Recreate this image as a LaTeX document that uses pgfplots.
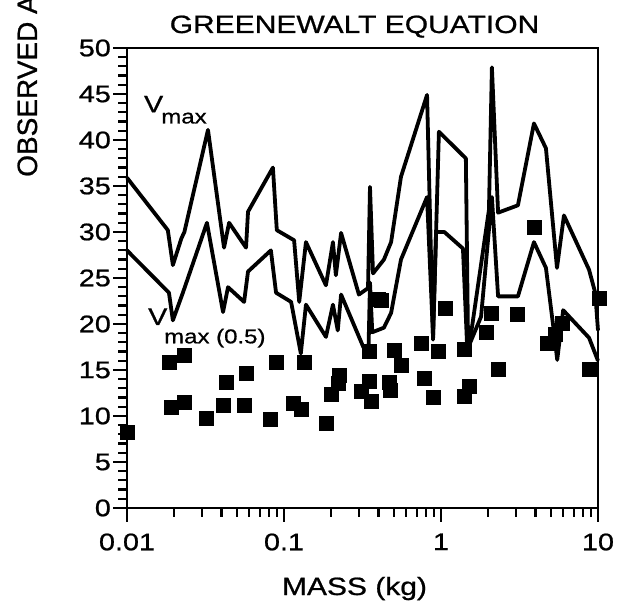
\documentclass[border=0pt]{standalone}
\usepackage{fontspec}
\setmainfont{Liberation Sans}[FakeStretch=1.2, FakeBold=0.8]
\newfontfamily\labelfont{Liberation Sans}[FakeBold=0.8]
\usepackage{pgfplots}
\pgfplotsset{compat=1.18}
\begin{document}
\begin{tikzpicture}
\begin{axis}[name=ax, scale only axis, width=471pt, height=460pt,
  xmode=log, xmin=0.01, xmax=10, ymin=0, ymax=50,
  xtick={0.01,0.1,1,10}, xticklabels={0.01,0.1,1,10},
  minor xtick={0.02,0.03,0.04,0.05,0.06,0.07,0.08,0.09,0.2,0.3,0.4,0.5,0.6,0.7,0.8,0.9,2,3,4,5,6,7,8,9},
  ytick={0,5,...,50}, minor y tick num=4,
  tick align=outside, xtick pos=bottom, ytick pos=left,
  major tick length=14pt, minor tick length=9pt,
  axis line style={line width=2.6pt},
  every tick/.style={black, line width=2.2pt},
  tick label style={font=\fontsize{24}{24}\selectfont},
  /pgf/number format/assume math mode=true,
  yticklabel style={inner sep=2pt},
  xticklabel shift=8pt,
  clip=false]
% V max
\addplot[black, line width=3.8pt, line join=round] coordinates {
(0.01,35.9) (0.0182,30.2) (0.0196,26.4) (0.0222,29.3) (0.0232,30.0)
(0.0328,41.1) (0.0415,28.3) (0.0447,31.0) (0.0573,28.3) (0.059,32.2)
(0.085,37.0) (0.090,30.2) (0.116,29.1) (0.125,22.4) (0.138,28.9)
(0.185,24.2) (0.205,28.9) (0.214,25.3) (0.231,29.9) (0.30,23.2)
(0.343,23.9) (0.353,34.9) (0.369,25.5) (0.433,27.0) (0.481,28.9)
(0.556,36.0) (0.815,44.9) (0.89,18.3) (0.97,40.9) (1.44,38.0)
(1.49,16.8) (2.02,32.4) (2.11,47.9) (2.31,32.1) (3.09,32.9)
(3.91,41.8) (4.66,39.1) (5.48,26.1) (6.07,31.8) (8.77,25.9)
(9.6,23.4) (10,19.3)};
% V max (0.5)
\addplot[black, line width=3.8pt, line join=round] coordinates {
(0.01,28.0) (0.0185,23.4) (0.0196,20.4) (0.0227,23.4) (0.0323,31.0)
(0.0409,21.3) (0.044,24.0) (0.0557,22.4) (0.059,25.7) (0.0825,28.0)
(0.089,23.4) (0.111,22.4) (0.128,16.8) (0.138,22.1) (0.185,18.6)
(0.205,22.1) (0.22,19.3) (0.231,23.2) (0.32,17.5) (0.345,16.8)
(0.353,24.5) (0.365,19.1) (0.433,19.6) (0.481,21.2) (0.556,27.0)
(0.815,33.8) (0.89,18.6) (0.93,30.0) (1.05,30.0) (1.38,28.2)
(1.47,17.2) (1.80,20.8) (2.11,33.8) (2.31,23.0) (3.09,23.0)
(3.91,28.9) (4.66,26.1) (5.2,19.6) (5.5,16.1) (6.0,21.5)
(8.77,18.5) (10,16.0)};
% observed
\addplot[only marks, mark=square*, mark size=7pt, black] coordinates {
(0.010,8.2) (0.0185,15.9) (0.0231,16.6) (0.0191,11.0) (0.0231,11.5)
(0.0318,9.8) (0.0409,11.2) (0.0427,13.7) (0.0557,11.2) (0.0573,14.7)
(0.0815,9.7) (0.089,15.9) (0.114,11.4) (0.128,10.7) (0.134,15.8)
(0.185,9.2) (0.20,12.4) (0.22,13.6) (0.226,14.4) (0.309,12.7)
(0.348,17.0) (0.35,13.8) (0.36,11.6) (0.40,22.7) (0.415,22.6)
(0.467,13.7) (0.475,12.8) (0.50,17.2) (0.556,15.5) (0.75,17.9)
(0.78,14.1) (0.89,12.0) (0.955,17.0) (1.06,21.7) (1.40,17.3)
(1.40,12.2) (1.51,13.2) (1.94,19.1) (2.08,21.2) (2.31,15.1)
(3.05,21.1) (3.91,30.5) (4.75,17.9) (5.3,18.9) (5.95,20.1)
(8.77,15.1) (10.2,22.8)};
\node[anchor=base west, inner sep=0, font=\fontsize{24}{24}\selectfont] at (axis cs:0.0128,43.0) {V};
\node[anchor=base west, inner sep=0, font=\fontsize{20}{20}\selectfont] at (axis cs:0.0165,41.8) {max};
\node[anchor=base west, inner sep=0, font=\fontsize{24}{24}\selectfont] at (axis cs:0.0136,19.9) {V};
\node[anchor=base west, inner sep=0, font=\fontsize{20}{20}\selectfont] at (axis cs:0.0172,17.9) {max (0.5)};
\end{axis}
\node[anchor=base, inner sep=0, font=\fontsize{25}{25}\selectfont] at ([shift={(-8pt,15pt)}]ax.north) {GREENEWALT EQUATION};
\node[anchor=base, inner sep=0, font=\fontsize{25}{25}\selectfont] at ([shift={(-8pt,-87pt)}]ax.south) {MASS (kg)};
\node[rotate=90, anchor=base west, inner sep=0, font=\labelfont\fontsize{28}{28}\selectfont] at ([shift={(-90pt,331pt)}]ax.south west) {OBSERVED AIRSPEED (m/s)};
\pgfresetboundingbox
\path[use as bounding box] ([shift={(-127pt,-99pt)}]ax.south west) rectangle ([shift={(491pt,508pt)}]ax.south west);
\end{tikzpicture}
\end{document}
